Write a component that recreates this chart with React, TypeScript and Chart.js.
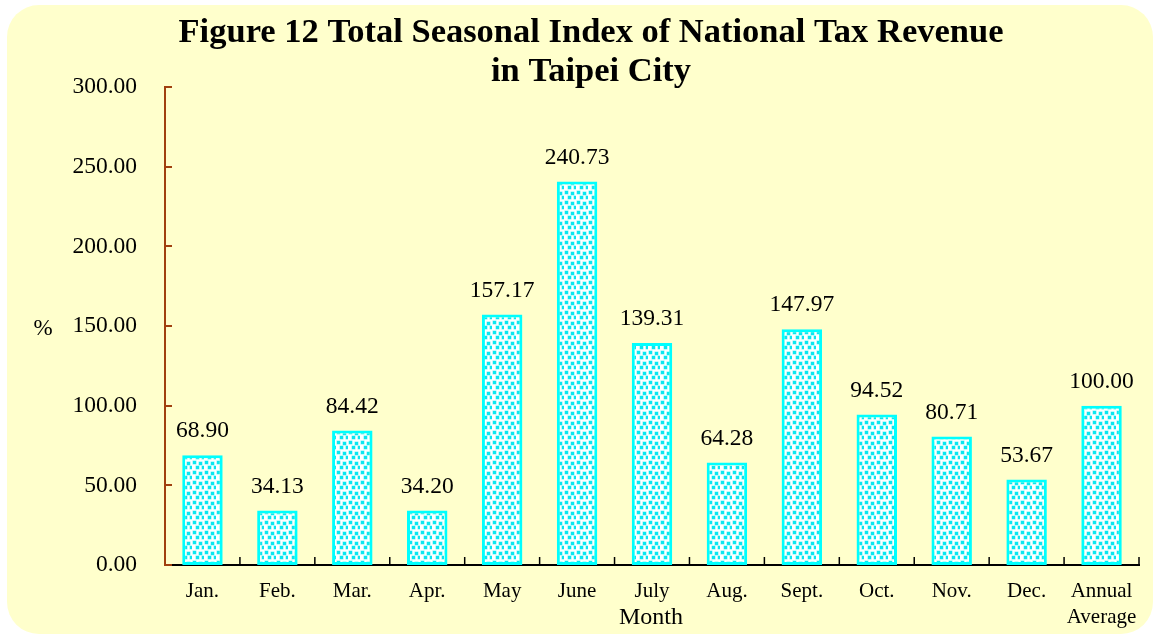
import React, { useEffect, useRef } from 'react';
import { Chart, registerables } from 'chart.js';

Chart.register(...registerables);

const months: (string | string[])[] = ['Jan.', 'Feb.', 'Mar.', 'Apr.', 'May', 'June', 'July', 'Aug.', 'Sept.', 'Oct.', 'Nov.', 'Dec.', ['Annual', 'Average']];
const seasonalIndex = [68.90, 34.13, 84.42, 34.20, 157.17, 240.73, 139.31, 64.28, 147.97, 94.52, 80.71, 53.67, 100.00];
const yTicks = [0, 50, 100, 150, 200, 250, 300];
const titleLines = ['Figure 12 Total Seasonal Index of National Tax Revenue', 'in Taipei City'];
const xAxisTitle = 'Month';
const yAxisTitle = '%';

const SERIF = '"Liberation Serif", "Times New Roman", serif';

function makePattern(): CanvasPattern | string {
  const c = document.createElement('canvas');
  c.width = 12;
  c.height = 10;
  const g = c.getContext('2d');
  if (!g) return '#00FFFF';
  g.fillStyle = '#ffffff';
  g.fillRect(0, 0, 12, 10);
  g.fillStyle = '#7FF5F8';
  const sq = [[1, 1], [7, 2], [4, 6], [10, 6]];
  sq.forEach(([x, y]) => g.fillRect(x - 0.5, y - 0.5, 4, 4));
  g.fillStyle = '#0BE6F0';
  sq.forEach(([x, y]) => g.fillRect(x, y, 3, 3));
  const ctx = document.createElement('canvas').getContext('2d');
  const p = ctx ? ctx.createPattern(c, 'repeat') : null;
  return p || '#00FFFF';
}

export default function App() {
  const ref = useRef<HTMLCanvasElement | null>(null);

  useEffect(() => {
    const canvas = ref.current;
    if (!canvas) return;

    const overlay = {
      id: 'overlay',
      afterDatasetsDraw(chart: any) {
        const ctx = chart.ctx;
        const { left, right, bottom } = chart.chartArea;
        const ys = chart.scales.y;
        ctx.save();
        // y tick marks (inward)
        ctx.strokeStyle = '#A0400F';
        ctx.lineWidth = 2;
        yTicks.forEach((v) => {
          const py = Math.round(ys.getPixelForValue(v));
          ctx.beginPath();
          ctx.moveTo(left, py);
          ctx.lineTo(left + 7, py);
          ctx.stroke();
        });
        // x tick marks (inward, at category boundaries)
        ctx.strokeStyle = '#000';
        ctx.lineWidth = 1.5;
        const n = months.length;
        for (let i = 1; i <= n; i++) {
          const px = left + (i * (right - left)) / n;
          ctx.beginPath();
          ctx.moveTo(px, bottom);
          ctx.lineTo(px, bottom - 8);
          ctx.stroke();
        }
        // data labels
        ctx.fillStyle = '#000';
        ctx.font = `23.5px ${SERIF}`;
        ctx.textAlign = 'center';
        ctx.textBaseline = 'middle';
        const meta = chart.getDatasetMeta(0);
        meta.data.forEach((bar: any, i: number) => {
          ctx.fillText(seasonalIndex[i].toFixed(2), bar.x, bar.y - 24);
        });
        // title
        ctx.font = `bold 34.5px ${SERIF}`;
        ctx.fillText(titleLines[0], 591, 33);
        ctx.fillText(titleLines[1], 591, 72);
        // axis titles
        ctx.font = `24px ${SERIF}`;
        ctx.fillText(xAxisTitle, 651, 618);
        ctx.font = `23px ${SERIF}`;
        ctx.fillText(yAxisTitle, 43, 329);
        ctx.restore();
      },
    };

    const chart = new Chart(canvas, {
      type: 'bar',
      data: {
        labels: months as any,
        datasets: [
          {
            data: seasonalIndex,
            backgroundColor: makePattern() as any,
            borderColor: '#00FFFF',
            borderWidth: 3,
            borderSkipped: false,
            categoryPercentage: 1,
            barPercentage: 0.54,
          },
        ],
      },
      options: {
        animation: false,
        responsive: false,
        layout: { padding: { top: 87, right: 16, left: 0, bottom: 0 } },
        plugins: {
          legend: { display: false },
          tooltip: { enabled: false },
          title: { display: false },
        },
        scales: {
          x: {
            grid: { display: false, drawTicks: false },
            border: { display: true, color: '#000', width: 2 },
            ticks: {
              color: '#000',
              font: { family: SERIF, size: 21, lineHeight: 1.25 },
              padding: 13,
              maxRotation: 0,
              autoSkip: false,
            },
            afterFit: (s: any) => {
              s.height = 71;
            },
          },
          y: {
            min: 0,
            max: 300,
            grid: { display: false, drawTicks: false },
            border: { display: true, color: '#A0400F', width: 2 },
            ticks: {
              stepSize: 50,
              callback: (v: any) => Number(v).toFixed(2),
              color: '#000',
              font: { family: SERIF, size: 23.5 },
              padding: 28,
            },
            afterFit: (s: any) => {
              s.width = 165;
            },
          },
        },
      },
      plugins: [overlay],
    });

    return () => chart.destroy();
  }, []);

  return (
    <div style={{ position: 'fixed', left: 0, top: 0, width: 1155, height: 636, background: '#ffffff', overflow: 'hidden' }}>
      <div
        style={{
          position: 'absolute',
          left: 7,
          top: 5,
          width: 1146,
          height: 629,
          borderRadius: 32,
          background: '#FFFFCC',
        }}
      />
      <canvas ref={ref} width={1155} height={636} style={{ position: 'absolute', left: 0, top: 0 }} />
    </div>
  );
}
